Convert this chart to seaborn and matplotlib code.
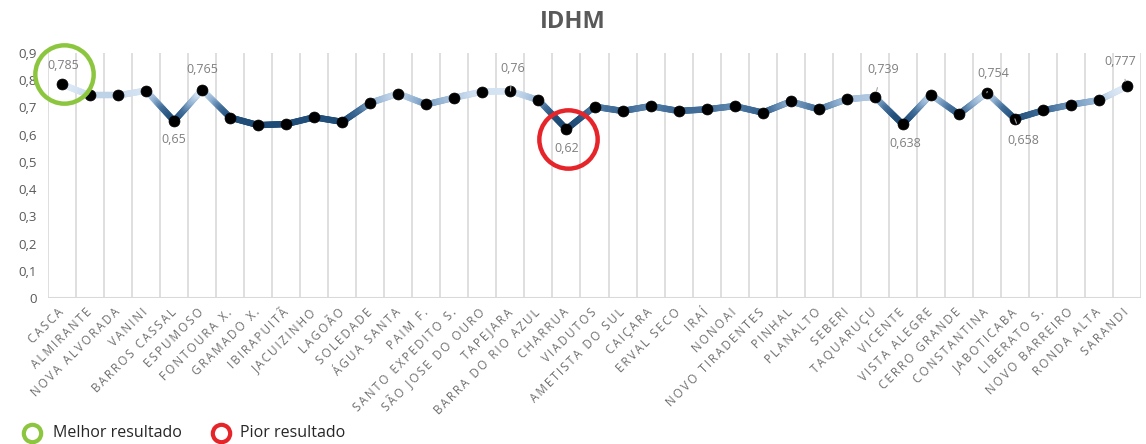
import numpy as np
import pandas as pd
import matplotlib
matplotlib.use("Agg")
import matplotlib.pyplot as plt
import seaborn as sns
from matplotlib.collections import LineCollection
from matplotlib.colors import LinearSegmentedColormap, Normalize
from matplotlib.lines import Line2D
from matplotlib.transforms import offset_copy

# ---------------- data ----------------
municipios = [
    "CASCA", "ALMIRANTE", "NOVA ALVORADA", "VANINI", "BARROS CASSAL", "ESPUMOSO",
    "FONTOURA X.", "GRAMADO X.", "IBIRAPUITÃ", "JACUIZINHO", "LAGOÃO", "SOLEDADE",
    "ÁGUA SANTA", "PAIM F.", "SANTO EXPEDITO S.", "SÃO JOSE DO OURO", "TAPEJARA",
    "BARRA DO RIO AZUL", "CHARRUA", "VIADUTOS", "AMETISTA DO SUL", "CAIÇARA",
    "ERVAL SECO", "IRAÍ", "NONOAI", "NOVO TIRADENTES", "PINHAL", "PLANALTO",
    "SEBERI", "TAQUARUÇU", "VICENTE", "VISTA ALEGRE", "CERRO GRANDE",
    "CONSTANTINA", "JABOTICABA", "LIBERATO S.", "NOVO BARREIRO", "RONDA ALTA",
    "SARANDI",
]
idhm = [
    0.785, 0.744, 0.744, 0.762, 0.650, 0.765,
    0.663, 0.635, 0.639, 0.664, 0.647, 0.717,
    0.751, 0.711, 0.736, 0.758, 0.760,
    0.727, 0.620, 0.703, 0.687, 0.705,
    0.687, 0.693, 0.705, 0.681, 0.722, 0.693,
    0.730, 0.739, 0.638, 0.747, 0.675,
    0.754, 0.658, 0.689, 0.710, 0.727,
    0.777,
]
y_ticks = [0, 0.1, 0.2, 0.3, 0.4, 0.5, 0.6, 0.7, 0.8, 0.9]
titulo = "IDHM"
melhor = "CASCA"
pior = "CHARRUA"
legenda = ["Melhor resultado", "Pior resultado"]
rotulados = ["CASCA", "BARROS CASSAL", "ESPUMOSO", "TAPEJARA", "CHARRUA",
             "TAQUARUÇU", "VICENTE", "CONSTANTINA", "JABOTICABA", "SARANDI"]

# ---------------- style ----------------
label_offsets = {  # (dx, dy) in pixels, leader line?
    "CASCA": (1, 19, False),
    "BARROS CASSAL": (0, -18, False),
    "ESPUMOSO": (0, 20, False),
    "TAPEJARA": (2, 23, True),
    "CHARRUA": (0, -19, False),
    "TAQUARUÇU": (8, 27, True),
    "VICENTE": (2, -19, False),
    "CONSTANTINA": (6, 19, True),
    "JABOTICABA": (8, -22, True),
    "SARANDI": (-7, 25, True),
}

df = pd.DataFrame({"municipio": municipios, "idhm": idhm})
df["pos"] = np.arange(len(df))

sns.set_theme(style="white")
plt.rcParams["font.family"] = ["Open Sans", "DejaVu Sans"]

W, H = 11.46, 4.44
fig = plt.figure(figsize=(W, H), dpi=100)
ax = fig.add_axes([48 / 1146, 1 - 298 / 444, (1141 - 48) / 1146, (298 - 53) / 444])

n = len(df)
ax.set_xlim(-0.5, n - 0.5)
ax.set_ylim(0, 0.9)

# vertical gridlines at category boundaries
for b in np.arange(-0.5, n, 1.0):
    ax.axvline(b, color="#d9d9d9", lw=1.2, zorder=0)
ax.axhline(0, color="#d9d9d9", lw=1.5, zorder=1)

# gradient line (colour by value)
cmap = LinearSegmentedColormap.from_list(
    "idhm",
    [(0.0, "#1a4770"), (0.25, "#22507c"), (0.45, "#44709b"),
     (0.62, "#8fb0d1"), (0.8, "#cfdff0"), (1.0, "#e8f0f9")],
)
norm = Normalize(vmin=0.62, vmax=0.785)
segs, cols = [], []
xs = df["pos"].to_numpy()
ys = df["idhm"].to_numpy()
for i in range(n - 1):
    t = np.linspace(0, 1, 21)
    px = xs[i] + (xs[i + 1] - xs[i]) * t
    py = ys[i] + (ys[i + 1] - ys[i]) * t
    for k in range(len(t) - 1):
        segs.append([(px[k], py[k]), (px[k + 1], py[k + 1])])
        cols.append(cmap(norm((py[k] + py[k + 1]) / 2)))
lc = LineCollection(segs, colors=cols, linewidths=4.6, capstyle="round",
                    joinstyle="round", zorder=2)
ax.add_collection(lc)

sns.scatterplot(data=df, x="pos", y="idhm", marker="o", s=62, color="black",
                edgecolor="black", linewidth=0.5, ax=ax, zorder=3, legend=False)

# data labels
for name in rotulados:
    i = municipios.index(name)
    v = idhm[i]
    dx, dy, leader = label_offsets[name]
    txt = f"{v:.3f}".rstrip("0").replace(".", ",")
    ax.annotate(
        txt, xy=(i, v), xytext=(dx, dy), textcoords="offset pixels",
        ha="center", va="center", fontsize=9, color="#7f7f7f",
        annotation_clip=False,
        arrowprops=dict(arrowstyle="-", color="#a6a6a6", lw=0.8,
                        shrinkA=6, shrinkB=4) if leader else None,
        zorder=4,
    )

# highlight circles
for name, colr, off in [(melhor, "#8cc63f", 10), (pior, "#e5252a", -10)]:
    i = municipios.index(name)
    tr = offset_copy(ax.transData, fig=fig, x=2, y=off, units="dots")
    ax.plot([i], [idhm[i]], marker="o", markersize=42, markerfacecolor="none",
            markeredgecolor=colr, markeredgewidth=3.2, transform=tr,
            clip_on=False, zorder=5)

# axes formatting
ax.set_yticks(y_ticks)
ax.set_yticklabels(["0" if t == 0 else f"{t:.1f}".replace(".", ",") for t in y_ticks],
                   fontsize=9.5, color="#595959")
ax.set_xticks(xs)
spaced = ["\u2009".join(list(m)) for m in municipios]
ax.set_xticklabels(spaced, rotation=45, ha="right", va="center",
                   rotation_mode="anchor", fontsize=8.5, color="#6e6e6e")
ax.tick_params(axis="x", length=0, pad=9)
ax.tick_params(axis="y", length=0, pad=8)
ax.set_xlabel("")
ax.set_ylabel("")
for s in ax.spines.values():
    s.set_visible(False)

fig.text(0.5, 1 - 22 / 444, titulo, ha="center", va="center", fontsize=17,
         fontweight="bold", color="#595959")

# legend (manual placement, figure coordinates)
leg_y = 1 - 433 / 444
for cx, tx, colr, lab in [(32, 53, "#8cc63f", legenda[0]), (221, 240, "#e5252a", legenda[1])]:
    fig.add_artist(Line2D([cx / 1146], [leg_y], transform=fig.transFigure,
                          marker="o", linestyle="none", markersize=12.5,
                          markerfacecolor="none", markeredgecolor=colr,
                          markeredgewidth=3))
    fig.text(tx / 1146, leg_y, lab, ha="left", va="center", fontsize=11.5,
             color="#262626")

fig.savefig("out.png", dpi=100, facecolor="white")
